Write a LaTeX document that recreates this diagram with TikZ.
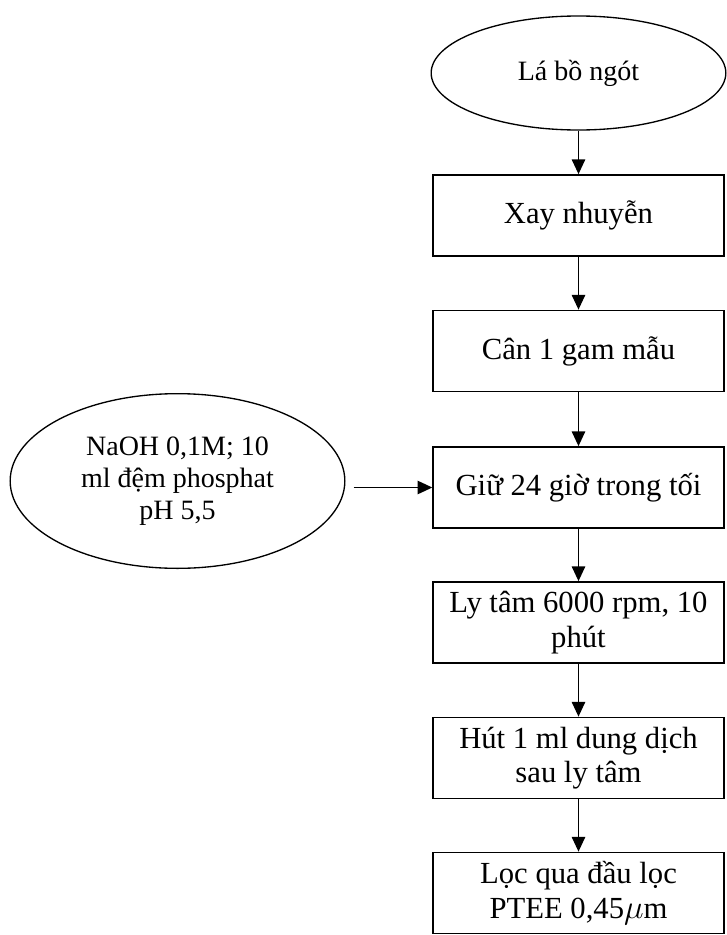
\documentclass[tikz,border=0pt]{standalone}
\usepackage{fontspec}
\setmainfont{Liberation Serif}
\usetikzlibrary{shapes.geometric,arrows.meta}
\begin{document}
\begin{tikzpicture}[x=0.75pt, y=-0.75pt, >={Triangle[length=11pt,width=10pt]}, line width=1.1pt,
  buoc/.style={rectangle, draw=black, line width=1.3pt, minimum width=218pt, minimum height=60.75pt,
               align=center, font=\fontsize{23}{26}\selectfont},
  nguyenlieu/.style={ellipse, draw=black, line width=1pt, align=center,
               font=\fontsize{21}{24}\selectfont}]
\useasboundingbox (0,0) rectangle (726,935);

% nguyên liệu
\node[nguyenlieu, minimum width=221pt, minimum height=85.5pt] (la) at (578.5,73) {Lá bồ ngót};
\node[nguyenlieu, minimum width=251pt, minimum height=131pt] (naoh) at (177.5,481)
  {NaOH 0,1M; 10\\ ml đệm phosphat\\ pH 5,5};

% các bước
\node[buoc] (xay) at (578.5,215.5) {Xay nhuyễn};
\node[buoc] (can) at (578.5,351) {Cân 1 gam mẫu};
\node[buoc] (giu) at (578.5,487.5) {Giữ 24 giờ trong tối};
\node[buoc] (lytam) at (578.5,622.5) {Ly tâm 6000 rpm, 10\\ phút};
\node[buoc] (hut) at (578.5,758) {Hút 1 ml dung dịch\\ sau ly tâm};
\node[buoc] (loc) at (578.5,893) {Lọc qua đầu lọc\\ PTEE 0,45$\mu$m};

% mũi tên
\draw[->] (la) -- (xay);
\draw[->] (xay) -- (can);
\draw[->] (can) -- (giu);
\draw[->] (giu) -- (lytam);
\draw[->] (lytam) -- (hut);
\draw[->] (hut) -- (loc);
\draw[->, shorten <=6pt] (naoh.east |- giu.west) -- (giu.west);

\end{tikzpicture}
\end{document}
